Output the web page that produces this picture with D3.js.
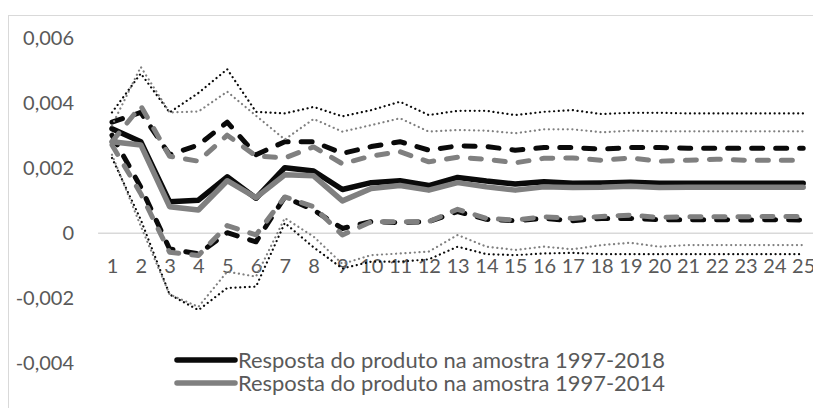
<!DOCTYPE html>
<html><head><meta charset="utf-8">
<script src="https://cdn.jsdelivr.net/npm/d3@7"></script>
<style>html,body{margin:0;padding:0;background:#fff;overflow:hidden}</style>
</head><body>
<svg id="chart" width="813" height="408"></svg>
<script>
const categories = ["1","2","3","4","5","6","7","8","9","10","11","12","13","14","15","16","17","18","19","20","21","22","23","24","25"];
const yTicks = [-0.004, -0.002, 0, 0.002, 0.004, 0.006];
const yTickLabels = ["-0,004", "-0,002", "0", "0,002", "0,004", "0,006"];
const legendLabels = ["Resposta do produto na amostra 1997-2018", "Resposta do produto na amostra 1997-2014"];

const resp2018 = [0.0032, 0.0028, 0.00095, 0.00100, 0.00172, 0.00106, 0.00200, 0.00190, 0.00133, 0.00154, 0.00160, 0.00145, 0.00170, 0.00159, 0.00150, 0.00157, 0.00152, 0.00153, 0.00155, 0.00152, 0.00152, 0.00152, 0.00152, 0.00152, 0.00152];
const resp2014 = [0.0028, 0.0027, 0.0008, 0.0007, 0.00160, 0.00108, 0.00178, 0.00175, 0.00098, 0.00136, 0.00145, 0.00131, 0.00154, 0.00141, 0.00131, 0.00141, 0.00139, 0.00140, 0.00143, 0.00139, 0.00140, 0.00140, 0.00140, 0.00140, 0.00140];
const dashUp2018 = [0.0034, 0.0037, 0.0024, 0.0027, 0.0034, 0.0024, 0.0028, 0.0028, 0.00244, 0.00265, 0.0028, 0.00254, 0.00267, 0.00265, 0.00254, 0.00262, 0.00262, 0.00257, 0.00262, 0.00262, 0.0026, 0.0026, 0.0026, 0.0026, 0.0026];
const dashUp2014 = [0.0028, 0.0039, 0.00235, 0.0022, 0.0030, 0.00236, 0.0023, 0.00264, 0.00212, 0.00236, 0.00249, 0.00218, 0.00232, 0.00226, 0.00215, 0.00229, 0.0023, 0.00223, 0.0023, 0.0022, 0.00223, 0.00226, 0.00223, 0.00223, 0.00223];
const dashLo2018 = [0.0030, 0.0014, -0.0005, -0.00065, 0.0000, -0.00028, 0.0011, 0.0007, 0.00013, 0.00034, 0.00031, 0.00034, 0.00065, 0.00041, 0.00037, 0.00044, 0.00037, 0.00044, 0.00044, 0.0004, 0.0004, 0.0004, 0.00039, 0.0004, 0.00039];
const dashLo2014 = [0.0027, 0.0012, -0.0006, -0.0007, 0.00022, -0.00007, 0.0011, 0.0008, -0.00007, 0.00034, 0.00034, 0.00034, 0.00072, 0.00044, 0.00039, 0.00049, 0.00044, 0.0005, 0.00054, 0.00047, 0.00049, 0.00049, 0.00049, 0.0005, 0.0005];
const dotUp2018 = [0.0037, 0.0049, 0.0037, 0.0043, 0.00503, 0.00372, 0.00367, 0.00387, 0.00358, 0.00377, 0.00403, 0.00362, 0.00375, 0.00375, 0.00362, 0.00372, 0.00377, 0.00365, 0.00369, 0.00369, 0.00367, 0.00367, 0.00367, 0.00367, 0.00367];
const dotUp2014 = [0.0033, 0.0051, 0.0037, 0.00373, 0.00434, 0.0036, 0.00287, 0.0035, 0.00311, 0.00331, 0.00352, 0.00311, 0.00316, 0.00314, 0.00306, 0.00318, 0.00318, 0.00309, 0.00314, 0.00312, 0.00312, 0.00312, 0.00312, 0.00312, 0.00312];
const dotLo2018 = [0.0023, 0.0004, -0.0019, -0.00238, -0.0017, -0.00166, 0.0003, -0.00045, -0.0011, -0.00089, -0.00089, -0.00082, -0.00043, -0.00066, -0.00069, -0.00064, -0.00062, -0.00066, -0.00066, -0.00066, -0.00066, -0.00066, -0.00066, -0.00066, -0.00066];
const dotLo2014 = [0.0024, 0.0002, -0.0019, -0.00228, -0.0012, -0.00135, 0.00045, -0.00012, -0.00096, -0.00069, -0.00064, -0.00058, -0.00007, -0.00043, -0.00053, -0.00043, -0.00051, -0.00038, -0.00031, -0.00043, -0.00038, -0.00038, -0.00038, -0.00038, -0.00038];

const BLACK = "#0a0a0a", GRAY = "#808080", TEXT = "#595959", FONT = "Lato, 'Open Sans', sans-serif";

const svg = d3.select("#chart");
svg.append("rect").attr("x", 8.5).attr("y", 15.5).attr("width", 830).attr("height", 430)
  .attr("fill", "#fff").attr("stroke", "#d9d9d9").attr("stroke-width", 1);

const x = d3.scalePoint().domain(categories).range([97.6, 817.6]).padding(0.5);
const y = d3.scaleLinear().domain([-0.004, 0.006]).range([362.7, 37.7]);

// y axis labels
const yAxis = d3.axisLeft(y).tickValues(yTicks).tickSize(0).tickPadding(0)
  .tickFormat((d, i) => yTickLabels[i]);
const gy = svg.append("g").attr("transform", "translate(74,0)").call(yAxis);
gy.select(".domain").remove();
gy.selectAll("text").attr("fill", TEXT).style("font-family", FONT).style("font-size", "20px");

// zero line (category axis)
const xAxis = d3.axisBottom(x).tickSize(0).tickPadding(0);
const gx = svg.append("g").attr("transform", `translate(0,${y(0)})`).call(xAxis);
gx.select(".domain").attr("stroke", "#d9d9d9").attr("stroke-width", 1.5);
gx.selectAll("text").attr("fill", TEXT).style("font-family", FONT).style("font-size", "20px")
  .attr("dy", "0").attr("y", 40);

const line = d3.line().x((d, i) => x(categories[i])).y(d => y(d));

const series = [
  {v: dotUp2018, c: BLACK, w: 2.2, dash: "0.1 4.6", cap: "round"},
  {v: dotLo2018, c: BLACK, w: 2.2, dash: "0.1 4.6", cap: "round"},
  {v: dashUp2018, c: BLACK, w: 5, dash: "11 13", cap: "round"},
  {v: dashLo2018, c: BLACK, w: 5, dash: "11 13", cap: "round"},
  {v: resp2018, c: BLACK, w: 5.5, dash: null, cap: "round"},
  {v: dotUp2014, c: GRAY, w: 2.2, dash: "0.1 4.6", cap: "round"},
  {v: dotLo2014, c: GRAY, w: 2.2, dash: "0.1 4.6", cap: "round"},
  {v: dashUp2014, c: GRAY, w: 5, dash: "11 13", cap: "round"},
  {v: dashLo2014, c: GRAY, w: 5, dash: "11 13", cap: "round"},
  {v: resp2014, c: GRAY, w: 5.5, dash: null, cap: "round"}
];

svg.append("g").selectAll("path").data(series).join("path")
  .attr("d", d => line(d.v))
  .attr("fill", "none")
  .attr("stroke", d => d.c)
  .attr("stroke-width", d => d.w)
  .attr("stroke-linecap", d => d.cap)
  .attr("stroke-linejoin", "round")
  .attr("stroke-dasharray", d => d.dash);

// legend
const legend = svg.append("g");
const legendY = [360, 383];
const legendColors = [BLACK, GRAY];
legendLabels.forEach((lab, i) => {
  legend.append("line").attr("x1", 177).attr("x2", 235).attr("y1", legendY[i]).attr("y2", legendY[i])
    .attr("stroke", legendColors[i]).attr("stroke-width", 5.5).attr("stroke-linecap", "round");
  const t = legend.append("text").attr("x", 238).attr("y", legendY[i]).attr("dy", "0.35em")
    .attr("fill", TEXT).style("font-family", FONT).style("font-size", "20px").text(lab);
  const w = t.node().getComputedTextLength();
  t.style("font-size", (20 * 427 / w) + "px");
});
</script>
</body></html>
